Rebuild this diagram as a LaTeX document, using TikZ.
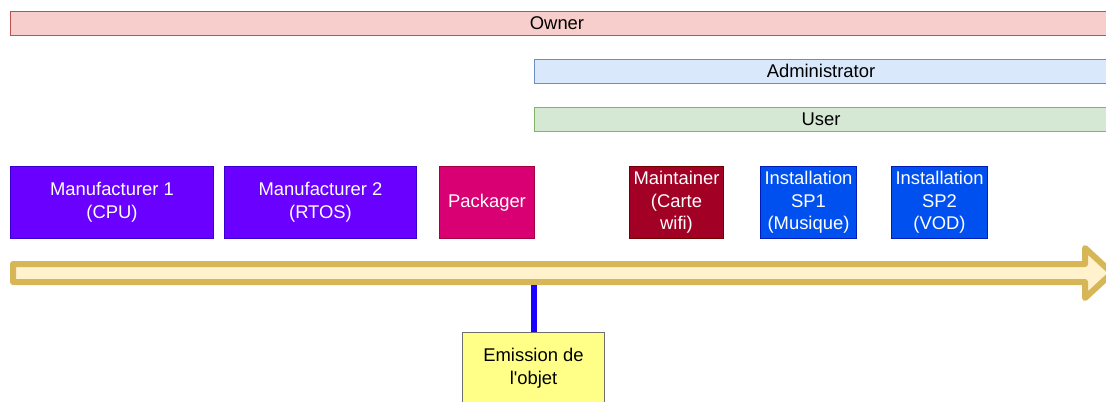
\documentclass[tikz,border=0pt]{standalone}
\usepackage{fontspec}
\setmainfont{Liberation Sans}
\begin{document}
\begin{tikzpicture}[x=0.75pt,y=-0.75pt,
  every node/.style={font=\fontsize{13.8}{17}\selectfont, inner sep=0pt, align=center},
  bar/.style={draw, line width=0.75pt, anchor=north west, minimum height=24*0.75pt},
  box/.style={draw, line width=0.75pt, anchor=north west, minimum height=72*0.75pt, text=white},
  mfr/.style={box, fill=mfrfill, draw=mfrdraw},
  pkg/.style={box, fill=pkgfill, draw=pkgdraw},
  mnt/.style={box, fill=mntfill, draw=mntdraw},
  inst/.style={box, fill=instfill, draw=instdraw},
  event/.style={draw=evdraw, fill=evfill, line width=0.75pt, anchor=north west, minimum width=142*0.75pt, minimum height=72*0.75pt},
  timeline/.style={draw=arrdraw, fill=arrfill, line width=4.5pt, line join=round},
  marker/.style={draw=markblue, line width=4pt}
]
\definecolor{ownerfill}{HTML}{F8CECC}\definecolor{ownerdraw}{HTML}{B85450}
\definecolor{adminfill}{HTML}{DAE8FC}\definecolor{admindraw}{HTML}{6C8EBF}
\definecolor{userfill}{HTML}{D5E8D4}\definecolor{userdraw}{HTML}{82B366}
\definecolor{mfrfill}{HTML}{6A00FF}\definecolor{mfrdraw}{HTML}{3700CC}
\definecolor{pkgfill}{HTML}{D80073}\definecolor{pkgdraw}{HTML}{A50040}
\definecolor{mntfill}{HTML}{A20025}\definecolor{mntdraw}{HTML}{6F0000}
\definecolor{instfill}{HTML}{0050EF}\definecolor{instdraw}{HTML}{001DBC}
\definecolor{arrfill}{HTML}{FFF2CC}\definecolor{arrdraw}{HTML}{D6B656}
\definecolor{evfill}{HTML}{FFFF88}\definecolor{evdraw}{HTML}{6E6E6E}
\definecolor{markblue}{HTML}{1A00FF}
\useasboundingbox (0,0) rectangle (1106,401);
\fill[white] (0,0) rectangle (1106,401);

\node[bar, fill=ownerfill, draw=ownerdraw, minimum width=1100*0.75pt] (owner) at (10,11) {};
\node at (557,23) (ownerlbl) {Owner};
\node[bar, fill=adminfill, draw=admindraw, minimum width=576*0.75pt] (admin) at (534,59) {};
\node at (821,71) (adminlbl) {Administrator};
\node[bar, fill=userfill, draw=userdraw, minimum width=576*0.75pt] (user) at (534,107) {};
\node at (821,119) (userlbl) {User};

\node[mfr, minimum width=203*0.75pt] (m1) at (10,166) {Manufacturer 1\\(CPU)};
\node[mfr, minimum width=192*0.75pt] (m2) at (224,166) {Manufacturer 2\\(RTOS)};
\node[pkg, minimum width=95*0.75pt] (pkg) at (439,166) {Packager};
\node[mnt, minimum width=94*0.75pt] (mnt) at (629,166) {Maintainer\\(Carte\\wifi)};
\node[inst, minimum width=96*0.75pt] (sp1) at (760,166) {Installation\\SP1\\(Musique)};
\node[inst, minimum width=96*0.75pt] (sp2) at (891,166) {Installation\\SP2\\(VOD)};

\draw[timeline] (13,264) -- (1085,264) -- (1085,248) -- (1112,273) -- (1085,298) -- (1085,282) -- (13,282) -- cycle;
\coordinate (tl) at (534,285);

\node[event] (emit) at (462,332) {Emission de\\l\textquotesingle objet};
\draw[marker] (tl) -- (emit.north -| tl);
\end{tikzpicture}
\end{document}
